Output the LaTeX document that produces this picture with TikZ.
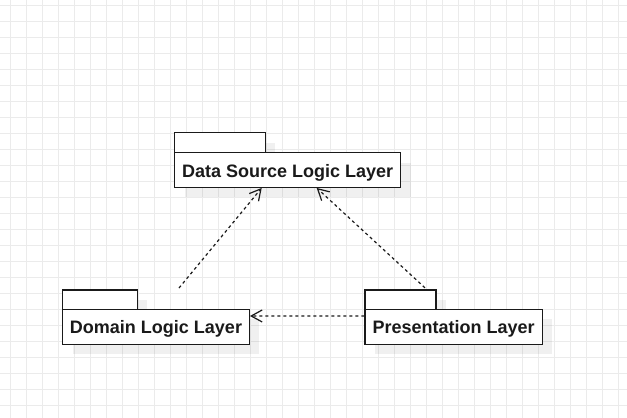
\documentclass[tikz,border=0pt]{standalone}
\usepackage{fontspec}
\setmainfont{Liberation Sans}
\usetikzlibrary{arrows.meta,shadows}
\definecolor{ink}{HTML}{1A1A1A}
\definecolor{gridc}{HTML}{EBEBEB}
\tikzset{
  shad/.style={drop shadow={shadow xshift=10pt,shadow yshift=-10pt,fill=black,opacity=0.06}},
  pkgtab/.style={draw=ink,line width=1.3pt,fill=white,shad,minimum height=20pt,inner sep=0pt},
  pkgbox/.style={draw=ink,line width=1.3pt,fill=white,shad,inner sep=0pt,
    text height=14pt,text depth=0pt,font=\fontsize{18}{21}\selectfont\bfseries,text=ink},
  dep/.style={draw=ink,line width=1.2pt,dash pattern=on 3pt off 3pt,
    -{Straight Barb[length=11pt,width=12pt,line width=1.2pt]}}
}
\begin{document}
\begin{tikzpicture}[x=1pt,y=-1pt]
\useasboundingbox (0,0) rectangle (627,418);
\fill[white] (0,0) rectangle (627,418);
\foreach \gx in {0,...,38} {\draw[gridc,line width=0.9pt] (10.7+16*\gx,0) -- (10.7+16*\gx,418);}
\foreach \gy in {0,...,26} {\draw[gridc,line width=0.9pt] (0,5+16*\gy) -- (627,5+16*\gy);}
% tabs
\node[pkgtab,minimum width=90.6pt] (dstab) at (220,142.7) {};
\node[pkgtab,minimum width=74.6pt,minimum height=19.3pt] (domtab) at (100,299.65) {};
\node[pkgtab,minimum width=71pt,minimum height=19.3pt] (prtab) at (400.5,299.65) {};
% boxes
\node[pkgbox,minimum width=226pt,minimum height=34.6pt] (ds) at (287.7,170) {Data Source Logic Layer};
\node[pkgbox,minimum width=186.6pt,minimum height=35pt] (dom) at (156,326.8) {Domain Logic Layer};
\node[pkgbox,minimum width=177.3pt,minimum height=35pt] (pr) at (453.7,326.7) {Presentation Layer};
% connectors
\coordinate (d1) at (179,288);
\draw[dep] (d1) -- ([xshift=-26pt]ds.south);
\draw[dep] ([xshift=24.5pt,yshift=1.5pt]prtab.north) -- ([xshift=29pt]ds.south);
\draw[dep] ([yshift=10.8pt]pr.west) -- ([yshift=10.8pt]dom.east);
\end{tikzpicture}
\end{document}
